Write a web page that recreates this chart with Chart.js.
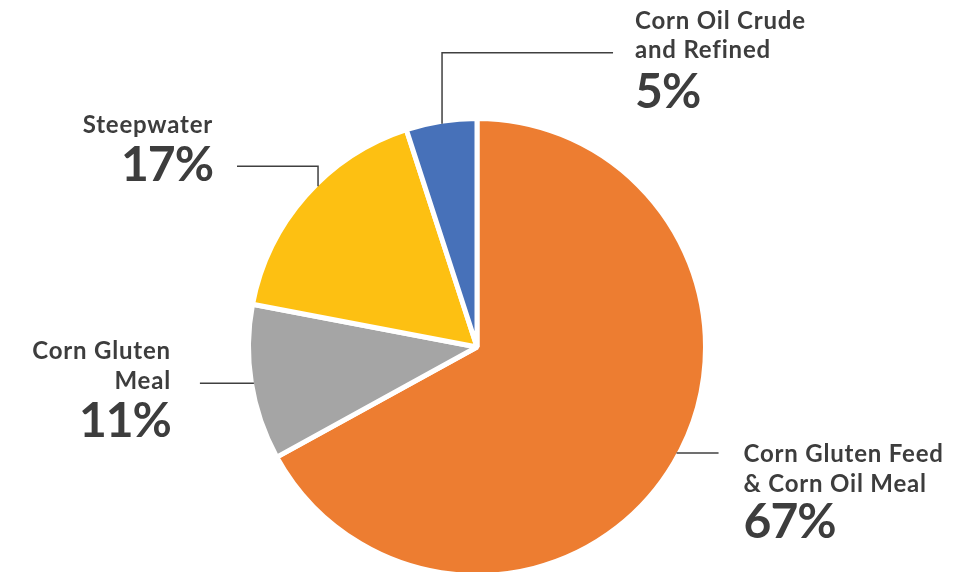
<!DOCTYPE html>
<html>
<head>
<meta charset="utf-8">
<title>Corn wet milling co-products</title>
<script src="https://cdn.jsdelivr.net/npm/chart.js@4/dist/chart.umd.min.js"></script>
<style>
    html, body {
        margin: 0;
        padding: 0;
        background: #ffffff;
        overflow: hidden;
    }
    .chart-wrap {
        width: 957px;
        height: 578px;
    }
</style>
</head>
<body>
<div class="chart-wrap">
    <canvas id="productChart" width="957" height="578"></canvas>
</div>
<script>
// Share of co-products, clockwise from 12 o'clock
const categories = [
    'Corn Gluten Feed & Corn Oil Meal',
    'Corn Gluten Meal',
    'Steepwater',
    'Corn Oil Crude and Refined'
];
const labelLines = [
    ['Corn Gluten Feed', '& Corn Oil Meal'],
    ['Corn Gluten', 'Meal'],
    ['Steepwater'],
    ['Corn Oil Crude', 'and Refined']
];
const shares = [67, 11, 17, 5];
const sliceColors = ['#ED7D31', '#A5A5A5', '#FDC012', '#4771B9'];

const BORDER = 5;
const TEXT_COLOR = '#3d3d3d';
const NAME_FONT = 'bold 24px Lato';
const PCT_FONT = 'bold 48px Lato';

// Leader line for each slice: where it leaves the rim (degrees clockwise from top),
// the elbow path as offsets, and how the text block sits against the line end
const callouts = [
    { angle: 118,   path: [[42, 0]],           align: 'left',  dx: 25,  lines: [9, 39], pct: 85 },
    { angle: 260.8, path: [[-54, 0]],          align: 'right', dx: -29, lines: [-24, 6], pct: 54 },
    { angle: 315.3, path: [[0, -20], [-81, 0]], align: 'right', dx: -24, lines: [-33], pct: 15 },
    { angle: 351.1, path: [[0, -71], [171, 0]], align: 'left',  dx: 22,  lines: [-24, 5], pct: 55 }
];

const calloutPlugin = {
    id: 'callouts',
    afterDatasetsDraw(chart) {
        const ctx = chart.ctx;
        const meta = chart.getDatasetMeta(0);

        meta.data.forEach((arc, i) => {
            const c = callouts[i];
            const r = arc.outerRadius - BORDER / 2;
            const a = c.angle * Math.PI / 180;
            let x = arc.x + r * Math.sin(a);
            let y = arc.y - r * Math.cos(a);

            ctx.save();
            ctx.strokeStyle = '#404040';
            ctx.lineWidth = 1.5;
            ctx.beginPath();
            ctx.moveTo(x, y);
            c.path.forEach(step => {
                x += step[0];
                y += step[1];
                ctx.lineTo(x, y);
            });
            ctx.stroke();

            ctx.fillStyle = TEXT_COLOR;
            ctx.textAlign = c.align;
            ctx.textBaseline = 'alphabetic';
            ctx.font = NAME_FONT;
            ctx.letterSpacing = '0.8px';
            labelLines[i].forEach((line, j) => {
                ctx.fillText(line, x + c.dx, y + c.lines[j]);
            });
            ctx.font = PCT_FONT;
            ctx.letterSpacing = '-1px';
            ctx.fillText(shares[i] + '%', x + c.dx, y + c.pct);
            ctx.restore();
        });
    }
};

new Chart(document.getElementById('productChart'), {
    type: 'pie',
    data: {
        labels: categories,
        datasets: [{
            data: shares,
            backgroundColor: sliceColors,
            borderColor: '#ffffff',
            borderWidth: BORDER
        }]
    },
    options: {
        responsive: false,
        animation: false,
        layout: {
            padding: { top: 116, bottom: 0, left: 0, right: 3 }
        },
        plugins: {
            legend: { display: false },
            tooltip: { enabled: false }
        }
    },
    plugins: [calloutPlugin]
});
</script>
</body>
</html>
